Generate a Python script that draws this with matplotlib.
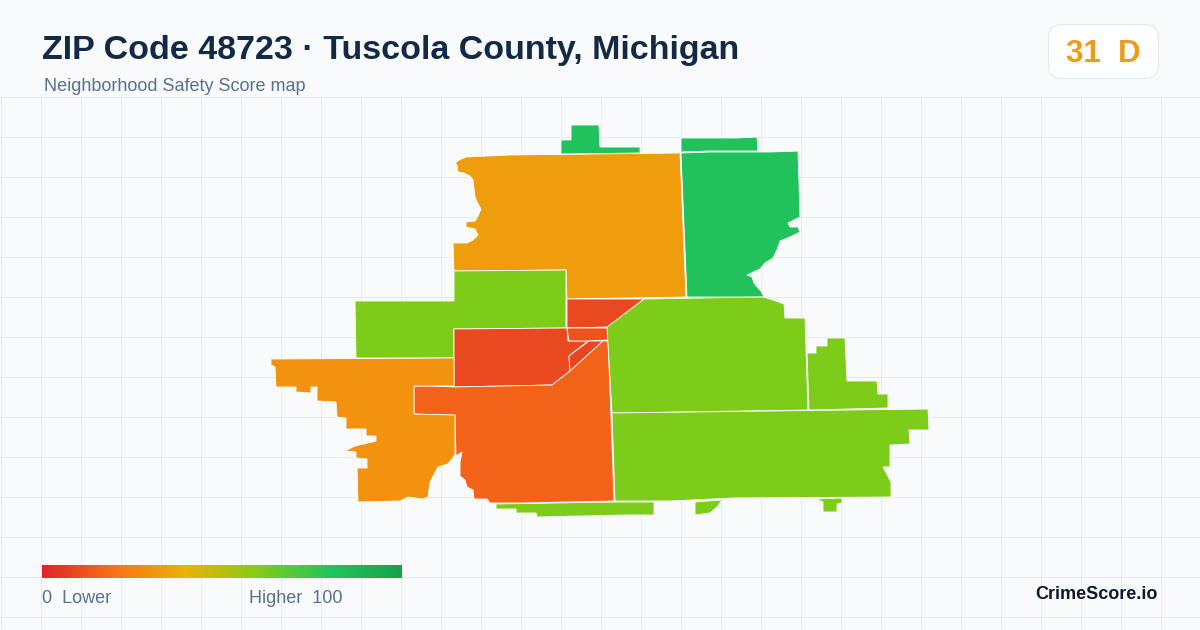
import numpy as np
import matplotlib
matplotlib.use("Agg")
import matplotlib.pyplot as plt
from matplotlib.colors import LinearSegmentedColormap
from matplotlib.patches import FancyBboxPatch

plt.rcParams['font.family'] = ['Liberation Sans', 'DejaVu Sans']

TITLE = "ZIP Code 48723 · Tuscola County, Michigan"
SUBTITLE = "Neighborhood Safety Score map"
BADGE = "31  D"
BRAND = "CrimeScore.io"
LEGEND_LOW = "0  Lower"
LEGEND_HIGH = "Higher  100"

# Score scale
scale_stops = [0, 0.2, 0.4, 0.6, 0.8, 1]
scale_colors = ["#dc2626", "#f97316", "#eab308", "#84cc16", "#22c55e", "#16a34a"]

# Map regions (pixel-space outline of the map projection) with their scores
nw_orange = [(455,163),(461,159),(466,157),(510,155),(680,153),(686,297),(567,299),(566,270),(454,271),(453,243),(467,243),(473,240),(478,235),(475,229),(466,227),(466,222),(475,221),(478,216),(481,209),(477,202),(475,197),(473,180),(470,176),(464,173),(458,172),(457,165)]
ne_green = [(681,153),(710,152),(770,152),(798,151),(800,217),(788,223),(790,227),(798,227),(800,232),(790,237),(780,241),(777,250),(773,258),(765,263),(760,269),(747,275),(752,277),(754,283),(757,287),(761,291),(764,297),(687,297)]
top_right_green = [(681,138),(737,138),(757,137),(758,151),(710,151),(681,152)]
top_green = [(571,125),(599,125),(600,147),(640,147),(640,153),(561,154),(561,140),(571,140)]
west_lime = [(355,301),(454,301),(454,271),(566,270),(566,328),(454,329),(454,358),(356,358)]
center_red = [(454,329),(567,328),(568,341),(588,341),(569,356),(570,371),(552,385),(454,387)]
upper_red = [(567,299),(644,299),(608,327),(567,328)]
strip_orange = [(567,328),(608,328),(608,340),(589,341),(569,341)]
sliver_red = [(589,341),(603,341),(570,371),(569,356)]
big_orange = [(414,386),(433,386),(454,387),(552,385),(570,371),(603,341),(608,341),(610,390),(614,501),(520,503),(490,503),(487,499),(474,499),(473,490),(467,487),(465,480),(460,476),(460,462),(462,452),(456,456),(455,415),(435,415),(414,414)]
sw_orange = [(271,359),(454,358),(454,386),(414,386),(414,414),(455,415),(455,455),(448,464),(438,467),(430,482),(428,497),(423,499),(408,497),(400,501),(358,502),(357,468),(367,468),(367,459),(356,458),(356,452),(345,451),(355,446),(376,441),(376,436),(366,436),(366,429),(346,429),(346,418),(337,417),(336,402),(317,401),(317,387),(311,387),(311,393),(296,392),(296,387),(276,387),(275,367),(271,365)]
center_lime = [(607,327),(644,299),(763,297),(773,300),(784,304),(785,318),(805,318),(808,410),(612,413)]
east_lime = [(807,353),(816,353),(816,346),(827,346),(827,338),(845,338),(847,381),(877,381),(878,394),(888,394),(888,408),(809,410)]
south_lime = [(612,413),(928,409),(929,430),(909,430),(910,444),(890,445),(890,467),(883,467),(891,482),(891,497),(733,498),(670,501),(615,501)]
south_strip = [(496,504),(614,502),(654,502),(654,515),(625,515),(537,517),(536,513),(516,513),(516,509),(496,509)]
south_piece_a = [(695,502),(722,500),(717,507),(710,513),(695,515)]
south_piece_b = [(816,499),(842,498),(842,503),(837,504),(837,512),(823,512),(823,502)]

regions = [
    (nw_orange, 33), (ne_green, 82), (top_right_green, 82), (top_green, 82),
    (west_lime, 61), (center_red, 9), (upper_red, 9), (strip_orange, 12),
    (sliver_red, 8), (big_orange, 16), (sw_orange, 30), (center_lime, 61),
    (east_lime, 61), (south_lime, 61), (south_strip, 61),
    (south_piece_a, 61), (south_piece_b, 61),
]

BG = "#f8fafc"
GRID = "#e4ecf2"
cmap = LinearSegmentedColormap.from_list("score", list(zip(scale_stops, scale_colors)))

fig = plt.figure(figsize=(12, 6.3), dpi=100, facecolor=BG)
ax = fig.add_axes([0, 0, 1, 1])
ax.set_xlim(0, 1200)
ax.set_ylim(630, 0)
ax.axis("off")

for x in np.arange(0.5, 1200, 40):
    ax.plot([x, x], [97, 630], color=GRID, lw=0.72, zorder=1, solid_capstyle="butt")
for y in np.arange(96.5, 630, 40):
    ax.plot([0, 1200], [y, y], color=GRID, lw=0.72, zorder=1, solid_capstyle="butt")

for outline, score in regions:
    xs, ys = zip(*outline)
    ax.fill(xs, ys, facecolor=cmap(score / 100), edgecolor="white", lw=0.6, zorder=2, joinstyle="round")

ax.text(42, 50, TITLE, fontsize=24.5, fontweight="bold", color="#132a46", va="center", ha="left", zorder=5)
ax.text(44, 86.5, SUBTITLE, fontsize=13, color="#5a7090", va="center", ha="left", zorder=5)

ax.add_patch(FancyBboxPatch((1048.5, 24.5), 110, 54, boxstyle="round,pad=0,rounding_size=14",
                            facecolor="white", edgecolor="#e2e8f0", lw=0.72, zorder=4))
ax.text(1103, 53.5, BADGE, fontsize=22.5, fontweight="bold", color="#ee9a1a", va="center", ha="center", zorder=5)

grad = np.linspace(0, 1, 360).reshape(1, -1)
ax.imshow(grad, extent=(42, 402, 578, 565), cmap=cmap, aspect="auto", zorder=3, interpolation="bilinear")
ax.set_xlim(0, 1200)
ax.set_ylim(630, 0)

ax.text(42, 598.5, LEGEND_LOW, fontsize=13, color="#5a7090", va="center", ha="left", zorder=5)
ax.text(249, 598.5, LEGEND_HIGH, fontsize=13, color="#5a7090", va="center", ha="left", zorder=5)
ax.text(1158, 594.5, BRAND, fontsize=13, fontweight="bold", color="#0f172a", va="center", ha="right", zorder=5)

fig.savefig("out.png", dpi=100, facecolor=BG)
